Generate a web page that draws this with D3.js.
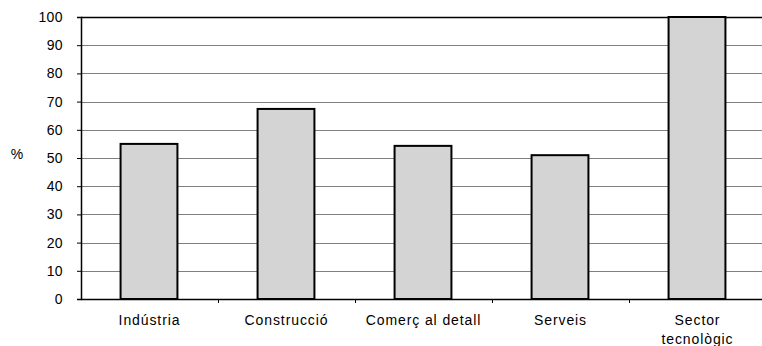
<!DOCTYPE html>
<html><head><meta charset="utf-8">
<script src="https://cdn.jsdelivr.net/npm/d3@7"></script>
<style>html,body{margin:0;padding:0;background:#fff;overflow:hidden}svg{display:block}</style>
</head><body>
<svg id="c" width="762" height="346"></svg>
<script>
const categories = ["Indústria", "Construcció", "Comerç al detall", "Serveis", "Sector tecnològic"];
const labelLines = [["Indústria"], ["Construcció"], ["Comerç al detall"], ["Serveis"], ["Sector", "tecnològic"]];
const values = [55, 67.4, 54.3, 51, 100];
const yTicks = [0, 10, 20, 30, 40, 50, 60, 70, 80, 90, 100];
const yLabel = "%";

(function () {
const svg = d3.select("#c");
const mLeft = 81, mRight = 766, mTop = 17, mBottom = 299;
const font = "'Liberation Sans', Arial, sans-serif";

const x = d3.scaleBand().domain(categories).range([mLeft, mRight]).padding(0);
const y = d3.scaleLinear().domain([0, 100]).range([mBottom, mTop]);

// gridlines
svg.append("g").selectAll("line").data(yTicks.filter(t => t > 0 && t < 100)).join("line")
  .attr("x1", mLeft).attr("x2", mRight)
  .attr("y1", d => Math.round(y(d)) + 0.5).attr("y2", d => Math.round(y(d)) + 0.5)
  .attr("stroke", "#808080").attr("stroke-width", 1);
// top border
svg.append("line").attr("x1", mLeft).attr("x2", mRight)
  .attr("y1", Math.round(y(100)) + 0.5).attr("y2", Math.round(y(100)) + 0.5)
  .attr("stroke", "#000").attr("stroke-width", 1.5);

// bars
const bw = x.bandwidth() * 0.415;
svg.append("g").selectAll("rect").data(categories).join("rect")
  .attr("x", d => x(d) + x.bandwidth() / 2 - bw / 2 - 0.5)
  .attr("y", (d, i) => y(values[i]))
  .attr("width", bw)
  .attr("height", (d, i) => y(0) - y(values[i]))
  .attr("fill", "#d4d4d4").attr("stroke", "#000").attr("stroke-width", 2);

// y axis
const yAxis = d3.axisLeft(y).tickValues(yTicks).tickSize(4).tickPadding(14).tickFormat(d3.format("d"));
const gy = svg.append("g").attr("transform", `translate(${mLeft},0)`).call(yAxis);
gy.select(".domain").attr("stroke", "#000").attr("stroke-width", 1.5);
gy.selectAll(".tick line").attr("stroke", "#000");
gy.selectAll(".tick text").attr("font-family", font).attr("font-size", 14)
  .attr("letter-spacing", "0.4px").attr("fill", "#000");

// x axis
const xAxis = d3.axisBottom(x).tickSize(0).tickFormat("");
const gx = svg.append("g").attr("transform", `translate(0,${mBottom})`).call(xAxis);
gx.select(".domain").attr("stroke", "#000").attr("stroke-width", 1.5);
// category separator ticks
svg.append("g").selectAll("line").data(categories.slice(1)).join("line")
  .attr("x1", d => Math.round(x(d)) + 0.5).attr("x2", d => Math.round(x(d)) + 0.5)
  .attr("y1", mBottom).attr("y2", mBottom + 4).attr("stroke", "#000");

// x labels
const lg = svg.append("g").selectAll("text").data(categories).join("text")
  .attr("x", d => x(d) + x.bandwidth() / 2)
  .attr("y", 325)
  .attr("text-anchor", "middle")
  .attr("letter-spacing", "0.9px")
  .attr("font-family", font).attr("font-size", 14).attr("fill", "#000");
lg.each(function(d, i) {
  d3.select(this).selectAll("tspan").data(labelLines[i]).join("tspan")
    .attr("x", x(d) + x.bandwidth() / 2)
    .attr("dy", (t, j) => j === 0 ? 0 : 19)
    .text(t => t);
});

// y label
svg.append("text").attr("x", 17).attr("y", 159).attr("text-anchor", "middle")
  .attr("font-family", font).attr("font-size", 14).attr("fill", "#000").text(yLabel);
})();
</script>
</body></html>
